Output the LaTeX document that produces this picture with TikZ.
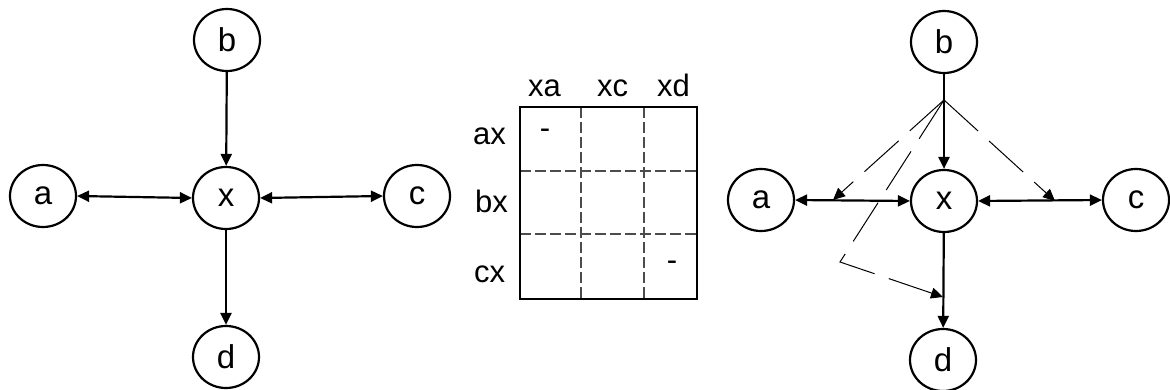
\documentclass[tikz,border=0pt]{standalone}
\usepackage{fontspec}
\setmainfont{Liberation Sans}
\usetikzlibrary{shapes.geometric,arrows.meta}
\tikzset{
  vnode/.style={ellipse,draw,line width=2.2pt,minimum width=66pt,minimum height=62pt,inner sep=0pt,font=\fontsize{33}{38}\selectfont},
  solidarr/.style={line width=2.2pt,-{Triangle[length=12pt,width=11pt]}},
  bothway/.style={line width=2.2pt,{Triangle[length=12pt,width=11pt]}-{Triangle[length=12pt,width=11pt]}},
  dasharr/.style={line width=1pt,dash pattern=on 46pt off 15pt,-{Triangle[length=12pt,width=11pt]}},
  grid/.style={line width=1.2pt,draw=black!70,dash pattern=on 11pt off 4pt},
  lbl/.style={inner sep=0pt,anchor=base west,font=\fontsize{31}{36}\selectfont}
}
\begin{document}
\begin{tikzpicture}[x=1pt,y=-1pt]
\useasboundingbox (0,0) rectangle (1170,390);
% left graph
\node[vnode] (la) at (43,196) {a};
\node[vnode] (lb) at (227,40) {b};
\node[vnode] (lx) at (226,198) {x};
\node[vnode] (lc) at (417,196) {c};
\node[vnode] (ld) at (226,357) {d};
\draw[solidarr] (lb) -- (lx);
\draw[solidarr] (lx) -- (ld);
\draw[bothway] (la.east) -- (lx.west);
\draw[bothway] (lx.east) -- (lc.west);
% matrix
\draw[grid] (581,107) -- (581,299);
\draw[grid] (644,107) -- (644,299);
\draw[grid] (520,171) -- (697,171);
\draw[grid] (520,234) -- (697,234);
\node[draw,line width=2.2pt,minimum width=177pt,minimum height=192pt,inner sep=0pt] (box) at (608.5,203) {};
\node[lbl] (hxa) at (528,97) {xa};
\node[lbl] (hxc) at (597,97) {xc};
\node[lbl] (hxd) at (657,97) {xd};
\node[lbl] (rax) at (473,145) {ax};
\node[lbl] (rbx) at (475,213) {bx};
\node[lbl] (rcx) at (474,282) {cx};
\node[lbl,anchor=center] (m1) at (545,134) {-};
\node[lbl,anchor=center] (m2) at (672,266) {-};
% right graph
\node[vnode] (ra) at (761,200) {a};
\node[vnode] (rb) at (944,42) {b};
\node[vnode] (rx) at (944,201) {x};
\node[vnode] (rc) at (1136,200) {c};
\node[vnode] (rd) at (943,360) {d};
\draw[solidarr] (rb) -- (rx);
\draw[solidarr] (rx) -- (rd);
\draw[bothway] (ra.east) -- (rx.west);
\draw[bothway] (rx.east) -- (rc.west);
\coordinate (src) at (944,100);
\coordinate (ta) at (833,200);
\coordinate (tc) at (1055,201);
\coordinate (corner) at (840,262);
\coordinate (td) at (943,297);
\draw[dasharr] (src) -- (ta);
\draw[dasharr] (src) -- (tc);
\draw[dasharr] (src) -- (corner) -- (td);
\end{tikzpicture}
\end{document}
